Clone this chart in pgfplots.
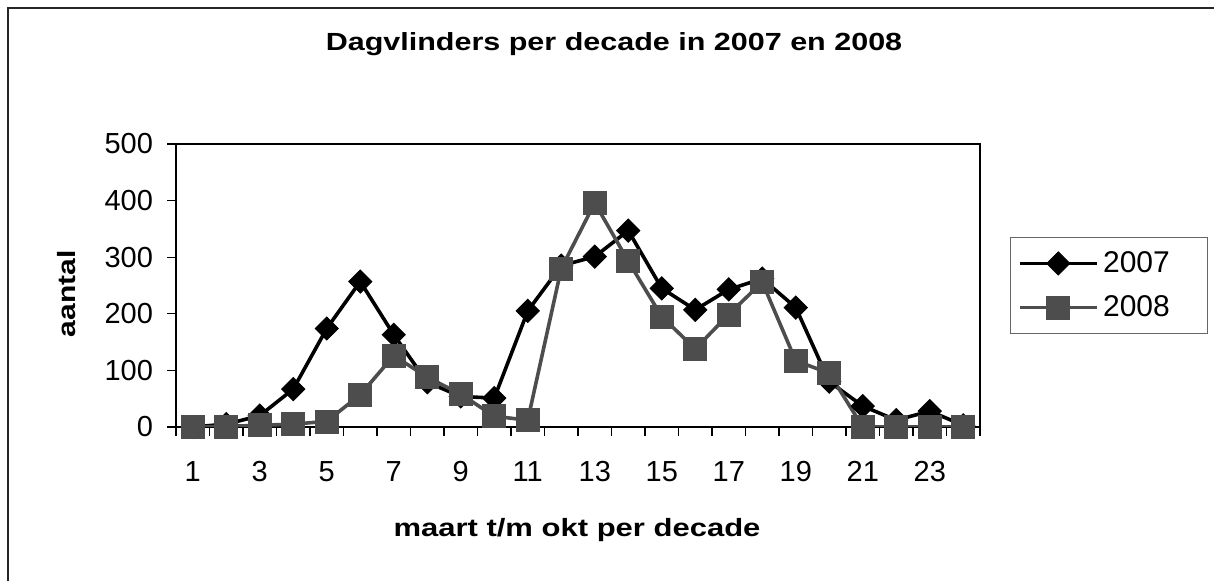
\documentclass[border=0pt]{standalone}
\usepackage{fontspec}
\setmainfont{Liberation Sans}
\usepackage{pgfplots}
\pgfplotsset{compat=1.18}
\definecolor{sgray}{RGB}{77,77,77}
\begin{document}
\begin{tikzpicture}[x=1pt,y=1pt]
\path[use as bounding box] (0,0) rectangle (607,290.5);
\draw[line width=1pt, black!85] (4,0) -- (4,286.5) -- (607,286.5);
\node[font=\fontsize{12.4}{14}\selectfont\bfseries, anchor=base, xscale=1.23, transform shape] at (307,265.2) {Dagvlinders per decade in 2007 en 2008};
\node[font=\fontsize{12.5}{14}\selectfont\bfseries, anchor=base, xscale=1.24, transform shape] at (288.5,22.2) {maart t/m okt per decade};
\node[font=\fontsize{12.5}{14}\selectfont\bfseries, anchor=base, rotate=90, xscale=1.2, transform shape] at (37.5,143.5) {aantal};
\begin{axis}[
  at={(88pt,77pt)}, anchor=south west,
  scale only axis, width=402pt, height=141.5pt,
  xmin=0.5, xmax=24.5, ymin=0, ymax=500,
  axis line style={line width=1.4pt},
  xtick={1,3,...,23},
  xticklabels={1,3,5,7,9,11,13,15,17,19,21,23},
  major x tick style={draw=none},
  minor xtick={0.5,1.5,...,24.5},
  minor x tick style={line width=0.6pt, black},
  ytick={0,100,...,500},
  major y tick style={line width=0.6pt, black},
  tick align=outside,
  major tick length=4.5pt, minor tick length=4.5pt,
  xtick pos=bottom, ytick pos=left,
  /pgf/number format/assume math mode=true,
  tick label style={font=\fontsize{14.5}{16}\selectfont},
  xticklabel style={anchor=base, yshift=-22.7pt},
  yticklabel style={anchor=east, xshift=-3.5pt},
  legend style={at={(axis description cs:1.0373,0.6714)}, anchor=north west, draw=black!60, line width=0.5pt,
    font=\fontsize{15}{17}\selectfont, inner xsep=4pt, inner ysep=5pt, row sep=6pt},
  legend cell align=left,
  legend image code/.code={\draw[mark repeat=2,mark phase=2,#1] plot coordinates {(0pt,0pt) (19pt,0pt) (38.5pt,0pt)};},
]
\addplot[black, line width=1.8pt, mark=square*, mark size=4.07pt, mark options={rotate=45, fill=black, line width=0.5pt}]
coordinates {(1,0) (2,5) (3,20) (4,67) (5,174) (6,257) (7,163) (8,79) (9,54) (10,51) (11,205) (12,285) (13,301) (14,347) (15,245) (16,207) (17,243) (18,262) (19,211) (20,80) (21,37) (22,12) (23,28) (24,3)};
\addlegendentry{\makebox[46pt][l]{2007}}
\addplot[sgray, line width=1.8pt, mark=square*, mark size=5.75pt, mark options={fill=sgray, draw=sgray, line width=0.3pt}]
coordinates {(1,0) (2,1) (3,3) (4,5) (5,10) (6,57) (7,126) (8,88) (9,58) (10,19) (11,12) (12,280) (13,396) (14,293) (15,195) (16,138) (17,199) (18,256) (19,117) (20,95) (21,0) (22,0) (23,0) (24,0)};
\addlegendentry{\makebox[46pt][l]{2008}}
\end{axis}
\end{tikzpicture}
\end{document}
